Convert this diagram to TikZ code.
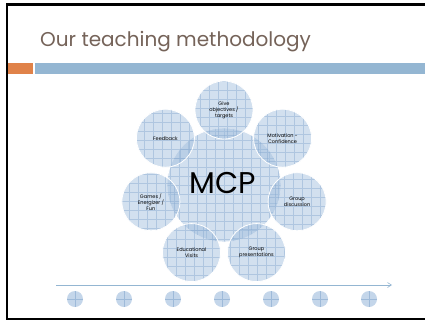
\documentclass[tikz,border=0pt]{standalone}
\usepackage{fontspec}
\setmainfont{Poppins}
\usetikzlibrary{arrows.meta}
\definecolor{titlebrown}{HTML}{756359}
\definecolor{accentorange}{HTML}{E08249}
\definecolor{accentblue}{HTML}{94B6D2}
\definecolor{bubble}{HTML}{9DBBDC}
\definecolor{gridblue}{HTML}{86A8CF}
\tikzset{
  frameline/.style={line width=2.4pt, black},
  bubblebase/.style={circle, inner sep=0pt, draw=white, line width=0.8pt,
    fill=bubble, fill opacity=0.45, text opacity=1, align=center,
    path picture={\draw[gridblue, line width=0.5pt, opacity=0.45]
      ([xshift=-4.5pt,yshift=-4.5pt]path picture bounding box.south west)
      grid[step=9pt] (path picture bounding box.north east);}},
  hub/.style={bubblebase, minimum size=114pt, font=\fontsize{30}{30}\selectfont},
  spoke/.style={bubblebase, minimum size=58pt, font=\fontsize{5}{6}\selectfont},
  dot/.style={circle, inner sep=0pt, minimum size=16pt, fill=bubble, fill opacity=0.6,
    path picture={\draw[gridblue, line width=0.5pt, opacity=0.6]
      (path picture bounding box.north) -- (path picture bounding box.south)
      (path picture bounding box.west) -- (path picture bounding box.east);}},
  timeline/.style={accentblue, line width=0.6pt, -{Straight Barb[length=4pt,width=5pt]}}
}
\begin{document}
\begin{tikzpicture}[x=1pt,y=-1pt]
  \useasboundingbox[fill=white] (0,0) rectangle (425,322);
  % slide frame
  \draw[frameline] (425,4.5) -- (7,4.5) -- (7,319) -- (425,319);
  % title and header bars
  \node[anchor=base west, inner sep=0pt, text=titlebrown,
        font=\fontsize{20}{24}\selectfont] (title) at (40,46) {Our teaching methodology};
  \fill[accentorange] (8,63) rectangle (33,74);
  \fill[accentblue] (35,63) rectangle (425,74);
  % central bubble and the seven spokes around it
  \node[hub] (mcp) at (224,185) {};
  \node[spoke] (s0) at (224,110)     {Give\\objectives /\\targets};
  \node[spoke] (s1) at (282.6,138.2) {Motivation -\\Confidence};
  \node[spoke] (s2) at (297.1,201.7) {Group\\discussion};
  \node[spoke] (s3) at (256.5,252.6) {Group\\presentations};
  \node[spoke] (s4) at (191.5,252.6) {Educational\\Visits};
  \node[spoke] (s5) at (150.9,201.7) {Games /\\Energizer /\\Fun};
  \node[spoke] (s6) at (165.4,138.2) {Feedback};
  \node[font=\fontsize{30}{30}\selectfont, inner sep=0pt] (mcplabel) at (223,183) {MCP};
  % timeline with markers
  \coordinate (tstart) at (56,285);
  \coordinate (tend) at (392,285);
  \draw[timeline] (tstart) -- (tend);
  \foreach \i in {0,...,6}{
    \node[dot] (d\i) at (75+49*\i,299) {};
  }
\end{tikzpicture}
\end{document}
